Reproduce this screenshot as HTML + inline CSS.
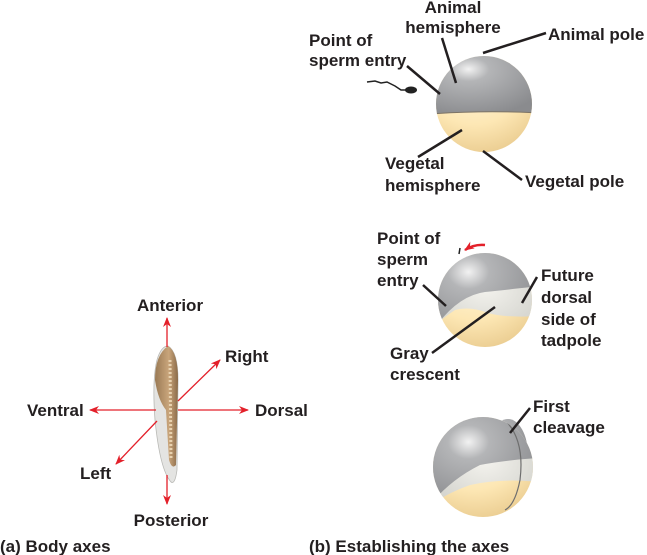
<!DOCTYPE html>
<html><head><meta charset="utf-8"><style>
html,body{margin:0;padding:0;background:#fff;}
svg{display:block;}
text{font-family:"Liberation Sans",Arial,sans-serif;font-weight:bold;font-size:17px;fill:#231f20;}
</style></head><body>
<svg width="647" height="555" viewBox="0 0 647 555" xmlns="http://www.w3.org/2000/svg">
<defs>
<radialGradient id="g" cx="0.35" cy="0.3" r="0.75">
<stop offset="0" stop-color="#f2f2f2"/><stop offset="0.25" stop-color="#b4b5b7"/><stop offset="1" stop-color="#8a8b8e"/></radialGradient>
<radialGradient id="y" cx="0.4" cy="0.2" r="0.8">
<stop offset="0" stop-color="#fff8e4"/><stop offset="0.6" stop-color="#fde7b4"/><stop offset="1" stop-color="#e8c98c"/></radialGradient>
<radialGradient id="w" cx="0.5" cy="0.5" r="0.6">
<stop offset="0" stop-color="#f4f3ee"/><stop offset="1" stop-color="#d2d2cc"/></radialGradient>
<linearGradient id="t" x1="0" x2="1"><stop offset="0" stop-color="#9a7a55"/><stop offset="0.6" stop-color="#c9a57b"/><stop offset="1" stop-color="#8a6a48"/></linearGradient>
<clipPath id="c1"><circle cx="484" cy="104" r="48"/></clipPath>
<clipPath id="c2"><circle cx="485" cy="300" r="47"/></clipPath>
<clipPath id="c3"><circle cx="483" cy="467" r="50"/></clipPath>
<marker id="a" markerWidth="10" markerHeight="8" refX="9" refY="4" orient="auto" markerUnits="userSpaceOnUse"><path d="M0,0 L10,4 L0,8 L3,4z" fill="#e3202a"/></marker>
</defs>

<g clip-path="url(#c1)">
<rect x="430" y="50" width="110" height="110" fill="url(#y)"/>
<path d="M430,50 H540 V113 Q484,110 430,114z" fill="url(#g)"/>
<path d="M430,114 Q484,110 540,113" stroke="#7d7466" stroke-width="1" fill="none"/>
</g>
<path d="M367,82 l8,-1 l6,2 l6,-1 l8,4 l6,4 l6,0" stroke="#222" stroke-width="1.5" fill="none"/>
<ellipse cx="411" cy="90" rx="6" ry="3.5" fill="#222"/>

<g clip-path="url(#c2)">
<rect x="430" y="245" width="110" height="110" fill="url(#y)"/>
<path d="M430,245 H540 V316 Q505,318 488,313 Q470,306 455,310 Q440,320 430,330z" fill="url(#w)"/>
<path d="M430,245 H540 V286 Q505,290 485,292 Q455,296 430,335z" fill="url(#g)"/>
</g>
<path d="M459,254 l1,-6" stroke="#222" stroke-width="1.5"/>
<path d="M485,245 Q474,244 465,250" stroke="#e3202a" stroke-width="2.5" fill="none" marker-end="url(#a)"/>

<ellipse cx="508" cy="455" rx="20" ry="36" fill="url(#g)"/>
<g clip-path="url(#c3)">
<rect x="430" y="415" width="110" height="110" fill="url(#y)"/>
<path d="M430,415 H540 V482 Q500,478 470,485 Q450,492 430,505z" fill="url(#w)"/>
<path d="M430,415 H540 V458 Q505,460 480,465 Q450,480 430,505z" fill="url(#g)"/>
<path d="M505,420 Q525,440 520,480 Q515,505 505,510" stroke="#6e6e6e" stroke-width="1.2" fill="none"/>
</g>

<g stroke="#231f20" stroke-width="2.5" fill="none">
<line x1="442" y1="38" x2="456" y2="83"/>
<line x1="483" y1="53" x2="546" y2="33"/>
<line x1="407" y1="66" x2="440" y2="94"/>
<line x1="418" y1="157" x2="462" y2="130"/>
<line x1="483" y1="151" x2="522" y2="180"/>
<line x1="423" y1="285" x2="446" y2="306"/>
<line x1="537" y1="277" x2="522" y2="303"/>
<line x1="432" y1="353" x2="495" y2="307"/>
<line x1="530" y1="408" x2="510" y2="433"/>
</g>

<text x="453" y="13" text-anchor="middle">Animal</text>
<text x="453" y="33" text-anchor="middle">hemisphere</text>
<text x="548" y="40">Animal pole</text>
<text x="309" y="46">Point of</text>
<text x="309" y="66">sperm entry</text>
<text x="385" y="169">Vegetal</text>
<text x="385" y="191">hemisphere</text>
<text x="525" y="187">Vegetal pole</text>
<text x="377" y="244">Point of</text>
<text x="377" y="265">sperm</text>
<text x="377" y="286">entry</text>
<text x="541" y="281">Future</text>
<text x="541" y="303">dorsal</text>
<text x="541" y="325">side of</text>
<text x="541" y="346">tadpole</text>
<text x="390" y="359">Gray</text>
<text x="390" y="380">crescent</text>
<text x="533" y="412">First</text>
<text x="533" y="433">cleavage</text>

<path d="M168,346 Q178,352 178,380 L177,470 Q175,485 171,482 Q160,470 155,420 Q152,380 157,360 Q161,346 168,346z" fill="#e4e4e2" stroke="#b9b9b5" stroke-width="0.8"/>
<path d="M168,346 Q178,352 178,380 L176,465 Q172,470 169,460 L166,410 Q158,400 155,380 Q155,355 168,346z" fill="url(#t)"/>
<path d="M170,360 L171,460" stroke="#e8d2b0" stroke-width="3" stroke-dasharray="2,2"/>

<g stroke="#e3202a" stroke-width="1.3" fill="none" marker-end="url(#a)">
<line x1="167" y1="347" x2="167" y2="318"/>
<line x1="167" y1="475" x2="167" y2="504"/>
<line x1="156" y1="410" x2="90" y2="410"/>
<line x1="178" y1="410" x2="248" y2="410"/>
<line x1="178" y1="401" x2="220" y2="360"/>
<line x1="157" y1="421" x2="116" y2="464"/>
</g>
<text x="170" y="311" text-anchor="middle">Anterior</text>
<text x="171" y="526" text-anchor="middle">Posterior</text>
<text x="27" y="416">Ventral</text>
<text x="255" y="416">Dorsal</text>
<text x="225" y="362">Right</text>
<text x="80" y="479">Left</text>
<text x="0" y="552">(a) Body axes</text>
<text x="309" y="552">(b) Establishing the axes</text>
</svg>
</body></html>
